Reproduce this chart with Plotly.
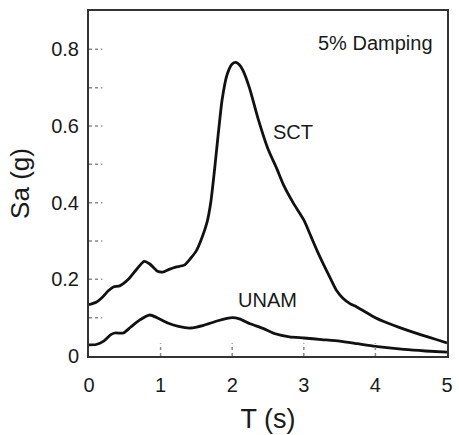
import plotly.graph_objects as go

# Period T (s) and spectral acceleration Sa (g)
sct_T = [0.00, 0.10, 0.18, 0.27, 0.34, 0.43, 0.55, 0.66, 0.77, 0.85, 0.95, 1.03, 1.12, 1.21,
         1.33, 1.42, 1.50, 1.58, 1.65, 1.70, 1.75, 1.80, 1.86, 1.93, 2.00, 2.05, 2.10, 2.15,
         2.24, 2.36, 2.50, 2.62, 2.72, 2.85, 3.00, 3.10, 3.19, 3.28, 3.37, 3.46, 3.55, 3.65,
         3.74, 4.00, 4.17, 4.40, 4.64, 4.85, 5.00]
sct_Sa = [0.134, 0.140, 0.152, 0.170, 0.180, 0.183, 0.200, 0.225, 0.247, 0.240, 0.222, 0.219,
          0.226, 0.232, 0.237, 0.255, 0.275, 0.310, 0.350, 0.400, 0.480, 0.570, 0.670, 0.735,
          0.762, 0.766, 0.760, 0.745, 0.700, 0.620, 0.540, 0.490, 0.445, 0.400, 0.355, 0.312,
          0.273, 0.237, 0.203, 0.170, 0.150, 0.136, 0.128, 0.100, 0.086, 0.070, 0.055, 0.043,
          0.034]

unam_T = [0.00, 0.10, 0.20, 0.30, 0.36, 0.48, 0.58, 0.70, 0.85, 0.95, 1.10, 1.25, 1.42, 1.60,
          1.80, 2.00, 2.10, 2.25, 2.43, 2.60, 2.80, 3.00, 3.25, 3.50, 3.75, 4.00, 4.40, 4.70,
          5.00]
unam_Sa = [0.029, 0.030, 0.038, 0.055, 0.060, 0.060, 0.075, 0.093, 0.107, 0.100, 0.086, 0.077,
           0.073, 0.080, 0.092, 0.100, 0.097, 0.084, 0.072, 0.058, 0.050, 0.047, 0.043, 0.039,
           0.032, 0.025, 0.017, 0.013, 0.010]

x_ticks = [0, 1, 2, 3, 4, 5]
x_ticktext = ["0", "1", "2", "3", "4", "5"]
y_ticks = [0, 0.2, 0.4, 0.6, 0.8]
y_ticktext = ["0", "0.2", "0.4", "0.6", "0.8"]
x_minor = [1, 2, 3, 4]
y_minor = [0.1, 0.2, 0.3, 0.4, 0.5, 0.6, 0.7, 0.8]

FONT = "Liberation Sans, Arial, sans-serif"
TXT = "#1a1a1a"

fig = go.Figure()
for xs, ys in [(sct_T, sct_Sa), (unam_T, unam_Sa)]:
    fig.add_trace(go.Scatter(x=xs, y=ys, mode="lines",
                             line=dict(color="#111111", width=2.8, shape="spline", smoothing=0.6),
                             showlegend=False, hoverinfo="skip"))

shapes = []
for v in x_minor:
    shapes.append(dict(type="line", xref="x", yref="paper", x0=v, x1=v, y0=0, y1=0.037,
                       line=dict(color="#8a8a8a", width=1.5, dash="dot")))
for v in y_minor:
    shapes.append(dict(type="line", xref="paper", yref="y", x0=0, x1=0.037, y0=v, y1=v,
                       line=dict(color="#8a8a8a", width=1.5, dash="dot")))

fig.update_layout(
    width=459, height=435,
    margin=dict(l=89, r=6, t=11, b=77),
    paper_bgcolor="white", plot_bgcolor="white",
    font=dict(family=FONT, color=TXT, size=20),
    shapes=shapes,
    xaxis=dict(range=[0, 5], tickvals=x_ticks, ticktext=x_ticktext, ticks="",
               showgrid=False, zeroline=False, showline=True, mirror=True,
               linecolor="#333333", linewidth=2, ticklabelstandoff=10,
               tickfont=dict(size=20, family=FONT, color=TXT),
               title=dict(text="T (s)", font=dict(size=27, family=FONT, color=TXT), standoff=14)),
    yaxis=dict(range=[0, 0.9], tickvals=y_ticks, ticktext=y_ticktext, ticks="",
               showgrid=False, zeroline=False, showline=True, mirror=True,
               linecolor="#333333", linewidth=2, ticklabelstandoff=4,
               tickfont=dict(size=20, family=FONT, color=TXT),
               title=dict(text="Sa (g)", font=dict(size=26, family=FONT, color=TXT), standoff=14)),
    annotations=[
        dict(text="5% Damping", x=4.00, y=0.817, xref="x", yref="y", showarrow=False,
             font=dict(size=20, family=FONT, color=TXT)),
        dict(text="SCT", x=2.85, y=0.585, xref="x", yref="y", showarrow=False,
             font=dict(size=20, family=FONT, color=TXT)),
        dict(text="UNAM", x=2.49, y=0.145, xref="x", yref="y", showarrow=False,
             font=dict(size=20, family=FONT, color=TXT)),
    ],
)

fig.write_html("out.html", config={"displayModeBar": False},
               post_script="document.body.style.margin='0';document.body.style.overflow='hidden';")
